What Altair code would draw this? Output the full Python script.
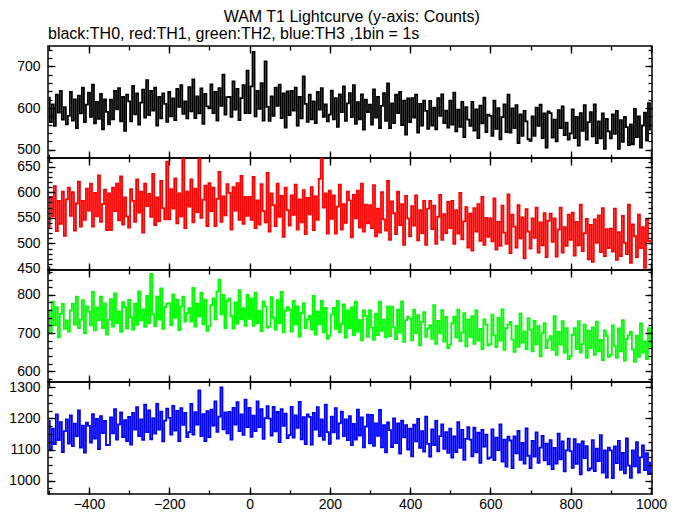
import altair as alt
import pandas as pd

FONT = "Liberation Sans"

# bin start times (s); values at 5-s resolution
TIME = list(range(-500, 1001, 5))

TH0 = [
    625, 566, 609, 557, 632, 589, 641, 572, 602, 561,
    581, 639, 570, 621, 552, 630, 587, 649, 566, 608,
    637, 579, 656, 563, 615, 574, 634, 549, 621, 591,
    561, 620, 573, 641, 597, 648, 568, 627, 545, 632,
    616, 568, 653, 585, 635, 560, 613, 644, 577, 667,
    583, 641, 594, 649, 558, 627, 575, 635, 610, 567,
    639, 580, 623, 571, 646, 603, 655, 586, 616, 575,
    650, 592, 669, 576, 628, 587, 647, 562, 634, 604,
    599, 657, 588, 639, 570, 648, 605, 680, 584, 626,
    627, 579, 664, 596, 646, 571, 624, 655, 588, 690,
    588, 652, 735, 580, 641, 598, 660, 570, 712, 603,
    569, 628, 581, 649, 605, 656, 576, 635, 553, 640,
    583, 641, 594, 649, 558, 627, 575, 676, 610, 567,
    632, 573, 616, 564, 639, 596, 648, 579, 609, 568,
    584, 642, 573, 624, 555, 633, 590, 652, 569, 611,
    636, 578, 655, 562, 614, 573, 633, 548, 620, 590,
    608, 560, 645, 577, 627, 552, 605, 636, 569, 659,
    552, 611, 564, 632, 588, 639, 559, 618, 536, 623,
    566, 624, 577, 632, 541, 610, 558, 618, 593, 550,
    617, 558, 601, 549, 624, 581, 633, 564, 594, 553,
    618, 560, 637, 544, 596, 555, 615, 530, 602, 572,
    557, 615, 546, 597, 528, 606, 563, 625, 542, 584,
    581, 533, 618, 550, 600, 525, 578, 609, 542, 632,
    541, 599, 552, 607, 516, 585, 533, 593, 568, 525,
    521, 580, 533, 601, 557, 608, 528, 587, 505, 592,
    588, 529, 572, 520, 595, 552, 604, 535, 565, 524,
    539, 597, 528, 579, 510, 588, 545, 607, 524, 566,
    590, 532, 609, 516, 568, 527, 587, 502, 574, 544,
    527, 585, 538, 593, 502, 571, 519, 579, 554, 511,
    561, 513, 598, 530, 580, 505, 558, 589, 522, 612,
    548,
]

TH1 = [
    532, 591, 553, 612, 524, 583, 538, 601, 515, 586,
    609, 554, 600, 525, 578, 621, 533, 583, 546, 607,
    564, 617, 533, 599, 553, 633, 542, 577, 605, 526,
    598, 526, 609, 563, 617, 545, 631, 537, 590, 553,
    531, 606, 583, 542, 625, 560, 601, 521, 617, 573,
    597, 552, 636, 536, 590, 543, 622, 569, 547, 660,
    547, 606, 568, 627, 539, 598, 553, 671, 530, 601,
    572, 625, 541, 607, 561, 671, 550, 585, 613, 534,
    618, 563, 609, 534, 587, 640, 542, 592, 555, 616,
    599, 527, 610, 564, 618, 546, 632, 538, 591, 554,
    591, 546, 630, 530, 584, 537, 616, 563, 541, 638,
    523, 598, 575, 534, 617, 552, 593, 513, 609, 565,
    535, 594, 556, 615, 527, 586, 541, 604, 518, 589,
    557, 610, 526, 592, 546, 626, 671, 570, 598, 519,
    603, 548, 594, 519, 572, 615, 527, 577, 540, 601,
    584, 512, 595, 549, 603, 531, 617, 523, 576, 539,
    575, 530, 614, 514, 568, 521, 600, 547, 525, 622,
    507, 582, 559, 518, 601, 536, 577, 497, 593, 549,
    514, 573, 535, 594, 506, 565, 520, 583, 497, 568,
    583, 528, 574, 499, 552, 595, 507, 557, 520, 581,
    530, 583, 499, 565, 519, 599, 508, 543, 571, 492,
    558, 486, 569, 523, 577, 505, 591, 497, 550, 513,
    549, 504, 588, 488, 542, 495, 574, 521, 499, 596,
    481, 556, 533, 492, 575, 510, 551, 471, 567, 523,
    490, 549, 511, 570, 482, 541, 496, 559, 473, 544,
    558, 503, 549, 474, 527, 570, 482, 532, 495, 556,
    507, 560, 476, 542, 496, 576, 485, 520, 548, 469,
    536, 464, 547, 501, 555, 483, 569, 475, 528, 491,
    529, 484, 568, 468, 522, 475, 554, 501, 479, 576,
    462, 537, 514, 473, 556, 491, 532, 452, 548, 504,
    505,
]

TH2 = [
    759, 702, 782, 721, 768, 689, 750, 776, 711, 733,
    704, 759, 777, 722, 795, 713, 735, 786, 699, 770,
    756, 720, 808, 707, 767, 734, 795, 713, 777, 696,
    735, 789, 717, 804, 726, 756, 703, 781, 767, 712,
    787, 741, 709, 777, 722, 809, 733, 762, 716, 797,
    726, 855, 749, 718, 795, 735, 817, 711, 768, 777,
    778, 721, 801, 740, 787, 708, 769, 795, 730, 752,
    766, 730, 818, 717, 777, 744, 805, 723, 787, 706,
    718, 773, 791, 736, 809, 840, 749, 800, 713, 784,
    790, 744, 712, 780, 725, 812, 736, 765, 719, 800,
    737, 791, 719, 806, 726, 758, 705, 783, 769, 714,
    717, 794, 740, 709, 786, 726, 808, 702, 759, 768,
    761, 704, 784, 723, 770, 691, 752, 778, 713, 735,
    745, 709, 797, 696, 756, 723, 784, 702, 766, 685,
    693, 748, 766, 711, 784, 702, 724, 775, 688, 759,
    713, 767, 695, 782, 704, 734, 681, 759, 745, 690,
    760, 714, 682, 750, 695, 782, 706, 735, 689, 770,
    692, 769, 715, 684, 761, 701, 783, 677, 734, 743,
    738, 681, 761, 700, 747, 668, 729, 755, 690, 712,
    721, 685, 773, 672, 732, 699, 760, 678, 742, 661,
    670, 725, 743, 688, 761, 679, 701, 752, 665, 736,
    690, 744, 672, 759, 681, 711, 658, 736, 722, 667,
    671, 748, 694, 663, 740, 680, 762, 656, 713, 722,
    729, 683, 651, 719, 664, 751, 675, 704, 658, 739,
    709, 652, 732, 671, 718, 639, 700, 726, 661, 683,
    692, 656, 744, 643, 703, 670, 731, 649, 713, 632,
    640, 695, 713, 658, 731, 649, 671, 722, 635, 706,
    661, 715, 643, 730, 652, 682, 629, 707, 693, 638,
    643, 720, 666, 635, 712, 652, 734, 628, 685, 694,
    703, 657, 625, 693, 638, 725, 649, 678, 632, 713,
    665,
]

TH3 = [
    1192, 1099, 1167, 1117, 1213, 1130, 1188, 1092, 1159, 1197,
    1119, 1210, 1111, 1183, 1143, 1226, 1106, 1177, 1090, 1186,
    1176, 1122, 1214, 1135, 1198, 1101, 1207, 1153, 1192, 1114,
    1115, 1203, 1152, 1230, 1132, 1181, 1219, 1140, 1194, 1127,
    1205, 1116, 1218, 1164, 1236, 1143, 1197, 1131, 1244, 1156,
    1226, 1133, 1201, 1151, 1247, 1164, 1222, 1126, 1193, 1231,
    1202, 1148, 1240, 1161, 1224, 1127, 1233, 1179, 1218, 1140,
    1156, 1247, 1148, 1220, 1180, 1290, 1143, 1214, 1127, 1223,
    1140, 1228, 1177, 1255, 1157, 1206, 1300, 1165, 1219, 1152,
    1221, 1132, 1234, 1180, 1252, 1159, 1213, 1147, 1260, 1172,
    1234, 1141, 1209, 1159, 1255, 1172, 1230, 1134, 1201, 1239,
    1199, 1145, 1237, 1158, 1221, 1124, 1230, 1176, 1215, 1137,
    1146, 1237, 1138, 1210, 1170, 1253, 1133, 1204, 1117, 1213,
    1205, 1116, 1218, 1164, 1236, 1143, 1197, 1131, 1244, 1156,
    1118, 1206, 1155, 1233, 1135, 1184, 1222, 1143, 1197, 1130,
    1207, 1114, 1182, 1132, 1228, 1145, 1203, 1107, 1174, 1212,
    1120, 1211, 1112, 1184, 1144, 1227, 1107, 1178, 1091, 1187,
    1162, 1108, 1200, 1121, 1184, 1087, 1193, 1139, 1178, 1100,
    1167, 1078, 1180, 1126, 1198, 1105, 1159, 1093, 1206, 1118,
    1077, 1165, 1114, 1192, 1094, 1143, 1181, 1102, 1156, 1089,
    1167, 1074, 1142, 1092, 1188, 1105, 1163, 1067, 1134, 1172,
    1132, 1078, 1170, 1091, 1154, 1057, 1163, 1109, 1148, 1070,
    1074, 1165, 1066, 1138, 1098, 1181, 1061, 1132, 1045, 1141,
    1129, 1040, 1142, 1088, 1160, 1067, 1121, 1055, 1168, 1080,
    1040, 1128, 1077, 1155, 1057, 1106, 1144, 1065, 1119, 1052,
    1130, 1037, 1105, 1055, 1151, 1068, 1126, 1030, 1097, 1135,
    1095, 1041, 1133, 1054, 1117, 1020, 1126, 1072, 1111, 1033,
    1039, 1130, 1031, 1103, 1063, 1146, 1026, 1097, 1010, 1106,
    1097, 1008, 1110, 1056, 1128, 1035, 1089, 1023, 1136, 1048,
    1009, 1097, 1046, 1124, 1026, 1075, 1113, 1034, 1088, 1021,
    1058,
]

TITLE = "WAM T1 Lightcurve (y-axis: Counts)"
SUBTITLE = "black:TH0, red:TH1, green:TH2, blue:TH3 ,1bin = 1s"

XDOM = [-502, 1002.5]
XMAJ = [-400, -200, 0, 200, 400, 600, 800, 1000]
XMIN = [-500, -400, -300, -200, -100, 0, 100, 200, 300, 400, 500, 600, 700, 800, 900, 1000]

PANELS = [
    (TH0, "#000000", [480, 749], [500, 600, 700], list(range(480, 749, 20)), 112),
    (TH1, "#ff0000", [448, 667], [450, 500, 550, 600, 650], list(range(450, 667, 10)), 112),
    (TH2, "#00ff00", [572, 865], [600, 700, 800], list(range(580, 865, 20)), 112),
    (TH3, "#0000ff", [957, 1317], [1000, 1100, 1200, 1300], list(range(975, 1317, 25)), 112),
]


def ax(orient, values, size, labels=False, pad=4):
    return alt.Axis(
        orient=orient, values=values, offset=-size, tickSize=size, tickWidth=1.3,
        tickColor="black", domain=False, grid=False, labels=labels, title=None,
        labelPadding=pad, labelFont=FONT, labelFontSize=14, labelColor="black",
        labelFlush=False, labelOverlap=False, format="d", minExtent=0, zindex=1,
    )


def panel(vals, color, ydom, ymaj, ymin, h, bottom, title=None):
    df = pd.DataFrame({"t": TIME, "c": vals})
    xs = alt.Scale(domain=XDOM, nice=False, zero=False)
    ys = alt.Scale(domain=ydom, nice=False, zero=False)
    base = alt.Chart(df)
    main = base.mark_line(color=color, strokeWidth=1.8, interpolate="step", clip=True).encode(
        x=alt.X("t:Q", scale=xs, axis=ax("bottom", XMAJ, 7, labels=bottom, pad=3)),
        y=alt.Y("c:Q", scale=ys, axis=ax("left", ymaj, 7, labels=True, pad=8)),
    )

    def helper(xo, xv, yo, yv, size):
        return base.mark_line(strokeOpacity=0, clip=True).encode(
            x=alt.X("t:Q", scale=xs, axis=ax(xo, xv, size)),
            y=alt.Y("c:Q", scale=ys, axis=ax(yo, yv, size)),
        )

    ch = alt.layer(
        main,
        helper("top", XMAJ, "right", ymaj, 7),
        helper("bottom", XMIN, "left", ymin, 4),
        helper("top", XMIN, "right", ymin, 4),
    ).resolve_axis(x="independent", y="independent").properties(width=604, height=h)
    if title is not None:
        ch = ch.properties(title=title)
    return ch


charts = []
for i, (vals, color, ydom, ymaj, ymin, h) in enumerate(PANELS):
    t = None
    if i == 0:
        t = alt.Title(SUBTITLE, anchor="start", frame="group", fontSize=16, font=FONT,
                      fontWeight="normal", color="black", offset=3)
    charts.append(panel(vals, color, ydom, ymaj, ymin, h, i == len(PANELS) - 1, t))

chart = alt.vconcat(*charts, spacing=0, bounds="flush").resolve_scale(
    x="independent", y="independent"
).properties(
    title=alt.Title(TITLE, anchor="middle", fontSize=16, font=FONT, fontWeight="normal",
                    color="black", offset=1, dx=14),
    padding={"left": 0, "top": 0, "right": 0, "bottom": 0},
).configure_view(stroke="black", strokeWidth=1.5)

chart.save("out.html", embed_options={"renderer": "svg", "actions": False})
